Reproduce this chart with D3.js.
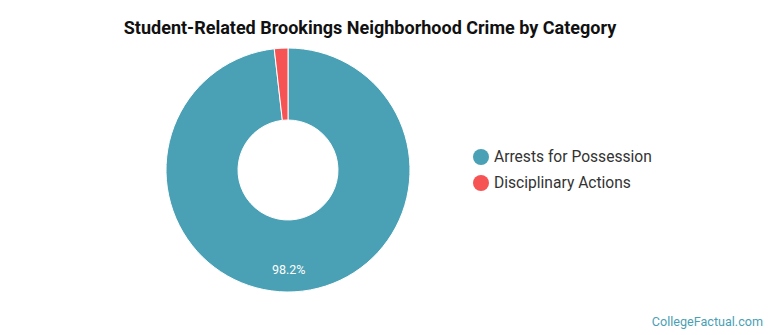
<!DOCTYPE html>
<html>
<head>
<meta charset="utf-8">
<script src="https://cdn.jsdelivr.net/npm/d3@7"></script>
<style>
  body { margin: 0; background: #fff; }
  svg { font-family: Roboto, "Noto Sans", sans-serif; display: block; }
</style>
</head>
<body>
<svg width="770" height="335"></svg>
<script>
const categories = ['Arrests for Possession', 'Disciplinary Actions'];
const shares = [98.2, 1.8];
const colors = ['#4aa0b4', '#f65454'];

(function (d3) {
  'use strict';

  const svg = d3.select('svg');

  svg.append('text')
    .attr('x', 370)
    .attr('y', 34)
    .attr('text-anchor', 'middle')
    .attr('font-size', 18)
    .attr('font-weight', 700)
    .attr('fill', '#111')
    .text('Student-Related Brookings Neighborhood Crime by Category');

  const data = categories.map((c, i) => ({ name: c, value: shares[i], color: colors[i] }));

  const pie = d3.pie().sort(null).value(d => d.value);
  const arc = d3.arc().innerRadius(50).outerRadius(122);
  const labelArc = d3.arc().innerRadius(100).outerRadius(100);

  const g = svg.append('g').attr('transform', 'translate(288,170)');

  g.selectAll('path')
    .data(pie(data))
    .enter().append('path')
      .attr('d', arc)
      .attr('fill', d => d.data.color)
      .attr('stroke', '#fff')
      .attr('stroke-width', 1);

  g.selectAll('.slice-label')
    .data(pie(data).filter(d => d.data.value > 5))
    .enter().append('text')
      .attr('class', 'slice-label')
      .attr('transform', d => {
        const [x, y] = labelArc.centroid(d);
        return `translate(${x - 5},${y})`;
      })
      .attr('text-anchor', 'middle')
      .attr('dy', '.35em')
      .attr('font-size', 12.5)
      .attr('fill', '#fff')
      .text(d => d.data.value.toFixed(1) + '%');

  const legend = svg.append('g')
    .attr('transform', 'translate(481,157)')
    .selectAll('.legend')
    .data(data)
    .enter().append('g')
      .attr('class', 'legend')
      .attr('transform', (d, i) => `translate(0,${i * 26})`);

  legend.append('circle')
    .attr('r', 8)
    .attr('fill', d => d.color);

  legend.append('text')
    .attr('x', 13)
    .attr('dy', '.35em')
    .attr('font-size', 15.6)
    .attr('fill', '#333')
    .text(d => d.name);

  svg.append('text')
    .attr('x', 763)
    .attr('y', 326)
    .attr('text-anchor', 'end')
    .attr('font-size', 12.6)
    .attr('fill', '#4a9fb5')
    .text('CollegeFactual.com');
}(d3));
</script>
</body>
</html>
